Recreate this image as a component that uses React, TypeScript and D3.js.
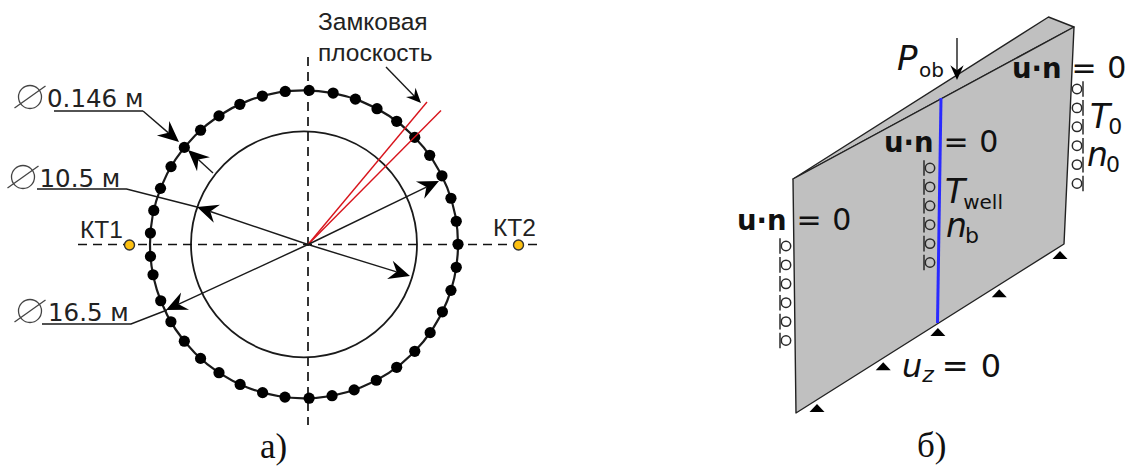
import React from "react";
import * as d3 from "d3";

const WIDTH = 1129;
const HEIGHT = 466;

// panel a): angular position of every well on the outer ring, degrees clockwise from north
const wellAngles = [
  1.9, 10.9, 19.5, 28.3, 37, 46, 54.7, 63.6, 72.6, 81.4, 90, 98.6, 107.4, 116, 125, 134, 143,
  152, 161, 169.5, 178.1, 187.1, 195.6, 204.5, 213.5, 222.2, 231, 239.8, 248.5, 258.6, 265.5,
  274.2, 282.7, 291.3, 300.3, 309, 317.8, 326.5, 335.4, 344.3, 353,
];
const diameterLabels = ["0.146 м", "10.5 м", "16.5 м"];
const planeLabels = ["Замковая", "плоскость"];
const wellLabels = ["КТ1", "КТ2"];
const panelLabels = ["а)", "б)"];

// panel б)
const rollerCount = [0, 1, 2, 3, 4, 5];
const supportSteps = [0, 1.09, 1.99, 3, 4];

const CX = 304;
const CY = 244.3;
const R_OUTER = 154;
const R_INNER = 113;
const AX = 308;
const AY = 244.5;

const INK = "#1a1a1a";
const GREY = "#c0c0c0";

const toXY = (deg: number): [number, number] => {
  const p = d3.pointRadial((deg * Math.PI) / 180, R_OUTER);
  return [CX + p[0], CY + p[1]];
};

const seg = d3.line();

const Arrow = ({ from, to, size = 1 }: { from: [number, number]; to: [number, number]; size?: number }) => {
  const a = Math.atan2(to[1] - from[1], to[0] - from[0]);
  const len = 21 * size;
  const wid = 9.5 * size;
  const back = 14 * size;
  const pt = (l: number, w: number): [number, number] => [
    to[0] - l * Math.cos(a) - w * Math.sin(a),
    to[1] - l * Math.sin(a) + w * Math.cos(a),
  ];
  return (
    <g>
      <path d={seg([from, pt(back, 0)]) || ""} stroke={INK} strokeWidth={1.4} fill="none" />
      <path d={seg([to, pt(len, wid), pt(back, 0), pt(len, -wid)]) + "Z"} fill="#000" />
    </g>
  );
};

const Phi = ({ x, y }: { x: number; y: number }) => (
  <g stroke="#444" strokeWidth={1.3} fill="none">
    <circle cx={x} cy={y} r={11.5} />
    <line x1={x - 15.5} y1={y + 11} x2={x + 15.5} y2={y - 11} />
  </g>
);

const Un = ({ x, y }: { x: number; y: number }) => (
  <text x={x} y={y} fontFamily="DejaVu Sans" fontSize={27.5} fill="#111">
    <tspan fontWeight="bold">u·n</tspan>
    <tspan dx={10} fontSize={30}>=</tspan>
    <tspan dx={1} fontSize={30}> 0</tspan>
  </text>
);

const Sym = ({ x, y, main, sub, subDx = -2, subDy = 5.5 }: any) => (
  <text x={x} y={y} fontFamily="DejaVu Sans" fontSize={33} fill="#111">
    <tspan fontStyle="italic">{main}</tspan>
    <tspan fontSize={sub.length > 1 ? 20 : 22} dx={subDx} dy={subDy}>{sub}</tspan>
  </text>
);

const Rollers = ({ cx, lx, y0 }: { cx: number; lx: number; y0: number }) => (
  <g>
    {rollerCount.map((i) => {
      const y = y0 + i * 18.9;
      return (
        <g key={i} fill="none" stroke="#2a2a2a" strokeWidth={1.5}>
          <circle cx={cx} cy={y} r={4.7} />
          <line x1={lx} x2={lx} y1={y - 7.8} y2={y + 7.8} />
        </g>
      );
    })}
  </g>
);

export default function App() {
  const stepX = d3.scaleLinear().domain([0, 4]).range([817, 1060]);
  const stepY = d3.scaleLinear().domain([0, 4]).range([404, 251]);

  return (
    <svg
      width={WIDTH}
      height={HEIGHT}
      style={{ position: "absolute", left: 0, top: 0, background: "#fff" }}
    >
      {/* panel a */}
      <circle cx={CX} cy={CY} r={R_OUTER} fill="none" stroke={INK} strokeWidth={2.2} />
      <circle cx={CX} cy={CY} r={R_INNER} fill="none" stroke={INK} strokeWidth={1.8} />
      <g stroke="#111" strokeWidth={1.7} strokeDasharray="9 6">
        <line x1={78} x2={543} y1={AY} y2={AY} />
        <line x1={AX} x2={AX} y1={57} y2={425} />
      </g>
      {wellAngles.map((d) => {
        const [x, y] = toXY(d);
        return <circle key={d} cx={x} cy={y} r={5.6} fill="#000" />;
      })}
      <g stroke="#d8141c" strokeWidth={1.4}>
        <line x1={AX} y1={AY} x2={427} y2={102} />
        <line x1={AX} y1={AY} x2={441} y2={110.5} />
      </g>
      <Arrow from={[386, 67]} to={[421, 103]} size={0.7} />
      <Arrow from={[143, 111]} to={[179, 142]} />
      <Arrow from={[213, 173]} to={[188, 150]} />
      <path d={seg([[37, 189], [126.5, 189], [197, 207]]) || ""} fill="none" stroke={INK} strokeWidth={1.4} />
      <Arrow from={[AX, AY]} to={[197, 207]} />
      <Arrow from={[AX, AY]} to={[410, 276]} />
      <Arrow from={[AX, AY]} to={[166, 310]} />
      <Arrow from={[AX, AY]} to={[439, 181]} />
      <path d={seg([[54, 111], [143, 111]]) || ""} fill="none" stroke={INK} strokeWidth={1.4} />
      <path d={seg([[42, 324], [131, 324], [167, 310]]) || ""} fill="none" stroke={INK} strokeWidth={1.4} />
      <Phi x={30} y={97} />
      <Phi x={23} y={177} />
      <Phi x={30} y={311} />
      <g fontFamily="DejaVu Sans" fontSize={24.5} fill="#222">
        <text x={47} y={107}>{diameterLabels[0]}</text>
        <text x={39.5} y={187}>{diameterLabels[1]}</text>
        <text x={48} y={321}>{diameterLabels[2]}</text>
      </g>
      <g fontFamily="Liberation Sans" fontSize={24.5} fill="#222">
        <text x={318} y={30}>{planeLabels[0]}</text>
        <text x={318} y={61}>{planeLabels[1]}</text>
        <text x={80} y={238}>{wellLabels[0]}</text>
        <text x={493} y={236}>{wellLabels[1]}</text>
      </g>
      <circle cx={129.5} cy={245} r={5} fill="#fdc010" stroke="#333" strokeWidth={1.4} />
      <circle cx={518.5} cy={245} r={5} fill="#fdc010" stroke="#333" strokeWidth={1.4} />

      {/* panel б */}
      <path
        d={seg([[793, 179], [1048.5, 17], [1074, 27]]) + "Z"}
        fill={GREY}
        stroke="#222"
        strokeWidth={1.4}
        strokeLinejoin="round"
      />
      <path
        d={seg([[793, 179], [1074, 27], [1064, 244], [796, 413]]) + "Z"}
        fill={GREY}
        stroke="#222"
        strokeWidth={1.4}
        strokeLinejoin="round"
      />
      <path d={seg([[941, 98], [937.5, 323]]) || ""} stroke="#2a2aff" strokeWidth={3} fill="none" />
      <Arrow from={[957, 38]} to={[957, 80]} size={0.7} />
      {supportSteps.map((s) => {
        const x = stepX(s);
        const y = stepY(s);
        return (
          <path key={s} d={seg([[x, y], [x + 7.5, y + 8], [x - 7.5, y + 8]]) + "Z"} fill="#000" />
        );
      })}
      <Rollers cx={786} lx={780} y0={246} />
      <Rollers cx={930} lx={924} y0={168} />
      <Rollers cx={1077} lx={1083} y0={89} />
      <Un x={1012} y={78} />
      <Un x={884} y={152} />
      <Un x={737} y={230} />
      <text x={897} y={70} fontFamily="DejaVu Sans" fontSize={34} fontStyle="italic" fill="#111">P</text>
      <text x={919} y={77} fontFamily="DejaVu Sans" fontSize={20} fill="#111">ob</text>
      <Sym x={1090} y={128} main="T" sub="0" />
      <Sym x={1087} y={166} main="n" sub="0" />
      <Sym x={945} y={203} main="T" sub="well" />
      <Sym x={946} y={237} main="n" sub="b" />
      <text x={902} y={377} fontFamily="DejaVu Sans" fontSize={32} fill="#111">
        <tspan fontStyle="italic">u</tspan>
        <tspan fontStyle="italic" fontSize={22} dy={5}>z</tspan>
        <tspan dy={-5} dx={8}>=</tspan>
        <tspan dx={2}> 0</tspan>
      </text>
      <g fontFamily="Liberation Serif" fontSize={35} fill="#111">
        <text x={260} y={458}>{panelLabels[0]}</text>
        <text x={917} y={457}>{panelLabels[1]}</text>
      </g>
    </svg>
  );
}
